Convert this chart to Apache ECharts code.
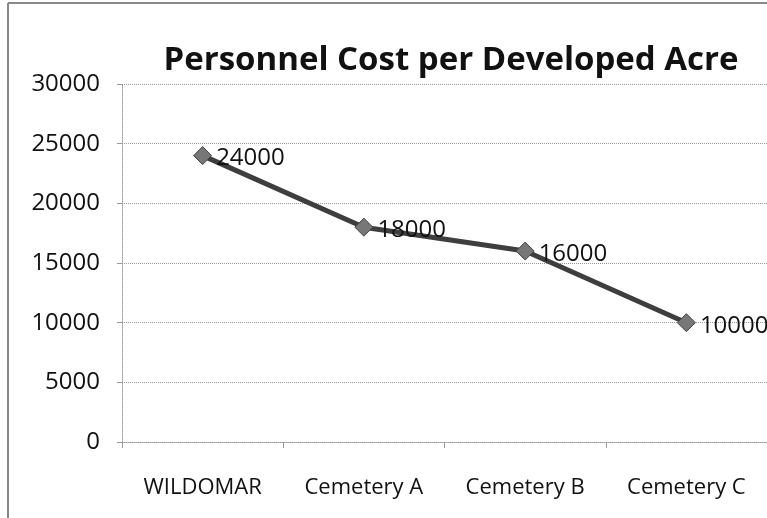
<!DOCTYPE html>
<html>
<head>
<meta charset="UTF-8">
<script src="https://cdn.jsdelivr.net/npm/echarts@6/dist/echarts.min.js"></script>
<style>
  body { margin: 0; padding: 0; background: #fff; }
  #chart { width: 767px; height: 518px; }
</style>
</head>
<body>
<div id="chart"></div>
<script>
// 数据
const categories = ['WILDOMAR', 'Cemetery A', 'Cemetery B', 'Cemetery C'];
const costValues = [24000, 18000, 16000, 10000];
const chartTitle = 'Personnel Cost per Developed Acre';

const chart = echarts.init(document.getElementById('chart'));
const font = "'Open Sans', 'Noto Sans', sans-serif";

chart.setOption({
  backgroundColor: '#fff',
  animation: false,
  title: {
    text: chartTitle,
    left: 446,
    top: 39,
    textAlign: 'center',
    textStyle: { fontFamily: font, fontSize: 33, fontWeight: 'bold', color: '#111' }
  },
  graphic: [
    { type: 'line', shape: { x1: 8, y1: 3, x2: 8, y2: 518 }, style: { stroke: '#888', lineWidth: 2 } },
    { type: 'line', shape: { x1: 8, y1: 3, x2: 767, y2: 3 }, style: { stroke: '#888', lineWidth: 2 } }
  ],
  grid: { left: 122, right: -7, top: 84, bottom: 76 },
  xAxis: {
    type: 'category',
    data: categories,
    boundaryGap: true,
    axisLine: { lineStyle: { color: '#999', type: 'dotted' } },
    axisTick: { show: true, interval: 0, length: 6, lineStyle: { color: '#999' } },
    axisLabel: { interval: 0, hideOverlap: false, fontFamily: font, fontSize: 22, color: '#111', margin: 35 }
  },
  yAxis: {
    type: 'value',
    min: 0,
    max: 30000,
    interval: 5000,
    axisLine: { show: true, lineStyle: { color: '#999', type: 'dotted' } },
    axisTick: { show: true, length: 5, lineStyle: { color: '#999' } },
    axisLabel: { fontFamily: font, fontSize: 24, color: '#111', margin: 22, formatter: v => String(v) },
    splitLine: { lineStyle: { color: '#999', type: 'dotted', width: 1 } }
  },
  series: [{
    type: 'line',
    data: costValues,
    symbol: 'diamond',
    symbolSize: 18,
    lineStyle: { color: '#3e3e3e', width: 5 },
    itemStyle: { color: '#777', borderColor: '#444', borderWidth: 1 },
    label: {
      show: true,
      position: 'right',
      distance: 4,
      offset: [0, 3],
      fontFamily: font,
      fontSize: 24,
      color: '#111'
    }
  }]
});
</script>
</body>
</html>
